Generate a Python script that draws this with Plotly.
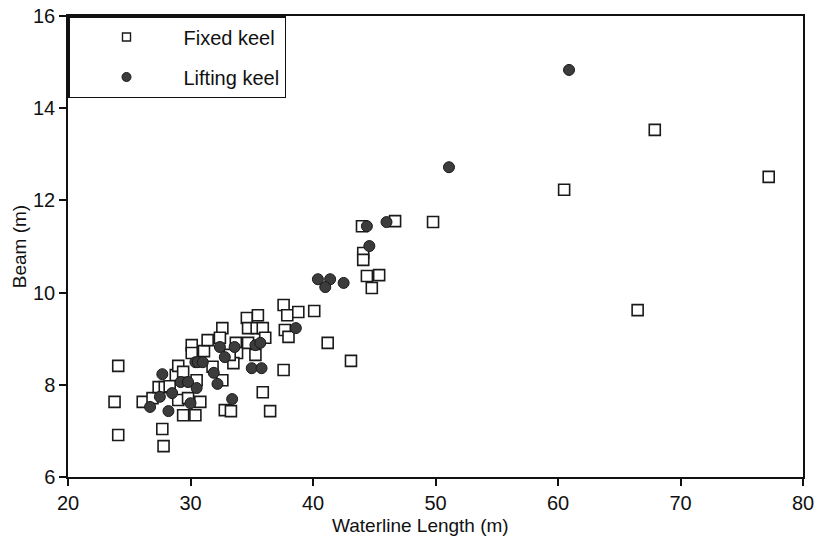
import plotly.graph_objects as go

# Fixed keel yachts: waterline length (m), beam (m)
fixed_lwl = [24.1, 23.8, 24.1, 26.1, 26.9, 27.7, 27.8, 27.4, 27.9, 28.8,
             29.0, 29.4, 29.0, 29.8, 29.4, 30.4, 30.1, 30.1, 31.1, 31.4,
             30.8, 30.5, 32.6, 32.4, 33.7, 33.8, 33.5, 34.7, 34.6, 35.5,
             34.7, 35.4, 35.9, 35.3, 35.9, 32.6, 32.8, 33.3, 36.5, 37.6,
             37.9, 38.8, 40.1, 37.7, 38.0, 37.6, 41.2, 43.1, 44.0, 46.7,
             49.8, 44.1, 44.1, 44.4, 45.4, 44.8, 60.5, 67.9, 77.2, 66.5,
             36.1, 28.3, 31.8, 33.2]
fixed_beam = [8.41, 7.63, 6.91, 7.63, 7.71, 7.04, 6.67, 7.95, 7.95, 8.21,
              8.41, 8.28, 7.67, 7.71, 7.34, 7.34, 8.86, 8.69, 8.73, 8.97,
              7.63, 8.10, 9.23, 9.02, 8.91, 8.69, 8.47, 8.91, 9.45, 9.51,
              9.23, 9.23, 9.23, 8.65, 7.84, 8.10, 7.45, 7.43, 7.43, 9.73,
              9.51, 9.58, 9.60, 9.19, 9.04, 8.32, 8.91, 8.52, 11.44, 11.55,
              11.53, 10.86, 10.71, 10.36, 10.38, 10.10, 12.23, 13.53, 12.51, 9.62,
              9.02, 7.97, 8.39, 8.65]

# Lifting keel yachts
lifting_lwl = [27.7, 26.7, 28.2, 27.5, 28.5, 29.2, 29.8, 30.4, 30.0, 30.6,
               31.0, 30.5, 31.9, 32.2, 32.4, 32.8, 33.6, 33.4, 35.3, 35.7,
               35.0, 35.8, 38.6, 40.4, 41.4, 41.0, 42.5, 44.4, 46.0, 44.6,
               51.1, 60.9]
lifting_beam = [8.23, 7.52, 7.43, 7.74, 7.82, 8.06, 8.06, 8.49, 7.60, 8.49,
                8.49, 7.93, 8.26, 8.02, 8.82, 8.60, 8.82, 7.69, 8.86, 8.91,
                8.36, 8.36, 9.23, 10.29, 10.29, 10.12, 10.21, 11.44, 11.53, 11.01,
                12.72, 14.83]

x_ticks = [20, 30, 40, 50, 60, 70, 80]
y_ticks = [6, 8, 10, 12, 14, 16]
x_title = "Waterline Length (m)"
y_title = "Beam (m)"

FONT = "Liberation Sans, Arial, sans-serif"
INK = "#111111"

fig = go.Figure()

fig.add_trace(go.Scatter(
    x=fixed_lwl, y=fixed_beam, mode="markers", name="Fixed keel",
    showlegend=False,
    marker=dict(symbol="square", size=11, color="white",
                line=dict(color="#1a1a1a", width=1.6)),
))
fig.add_trace(go.Scatter(
    x=lifting_lwl, y=lifting_beam, mode="markers", name="Lifting keel",
    showlegend=False,
    marker=dict(symbol="circle", size=11, color="#3c3c3c",
                line=dict(color="#1a1a1a", width=1)),
))
# legend entries with smaller symbols
fig.add_trace(go.Scatter(
    x=[None], y=[None], mode="markers", name="Fixed keel", legendgroup="a",
    marker=dict(symbol="square", size=8, color="white",
                line=dict(color="#1a1a1a", width=1.4)),
))
fig.add_trace(go.Scatter(
    x=[None], y=[None], mode="markers", name="Lifting keel", legendgroup="b",
    marker=dict(symbol="circle", size=9, color="#3c3c3c",
                line=dict(color="#1a1a1a", width=1)),
))

axis_common = dict(
    showline=True, linecolor=INK, linewidth=1.5, mirror=True,
    ticks="outside", ticklen=7, tickwidth=1.5, tickcolor=INK,
    showgrid=False, zeroline=False, automargin=False,
    tickfont=dict(family=FONT, size=20, color=INK),
)

fig.update_xaxes(range=[20, 80], tickvals=x_ticks, **axis_common)
fig.update_yaxes(range=[6, 16], tickvals=y_ticks,
                 title=dict(text=y_title,
                            font=dict(family=FONT, size=19, color=INK),
                            standoff=1),
                 **axis_common)

fig.add_annotation(text=x_title, xref="paper", yref="paper",
                   x=0.48, y=-0.106, xanchor="center", yanchor="middle",
                   showarrow=False,
                   font=dict(family=FONT, size=19, color=INK))

fig.update_layout(
    width=817, height=545,
    margin=dict(l=68, r=14, t=16, b=68),
    paper_bgcolor="white", plot_bgcolor="white",
    font=dict(family=FONT, color=INK),
    legend=dict(x=0, y=1, xanchor="left", yanchor="top",
                bgcolor="white", bordercolor=INK, borderwidth=1.5,
                font=dict(family=FONT, size=20, color=INK),
                itemwidth=104, traceorder="grouped", tracegroupgap=11,
                entrywidth=112),
)

fig.write_html("out.html")
